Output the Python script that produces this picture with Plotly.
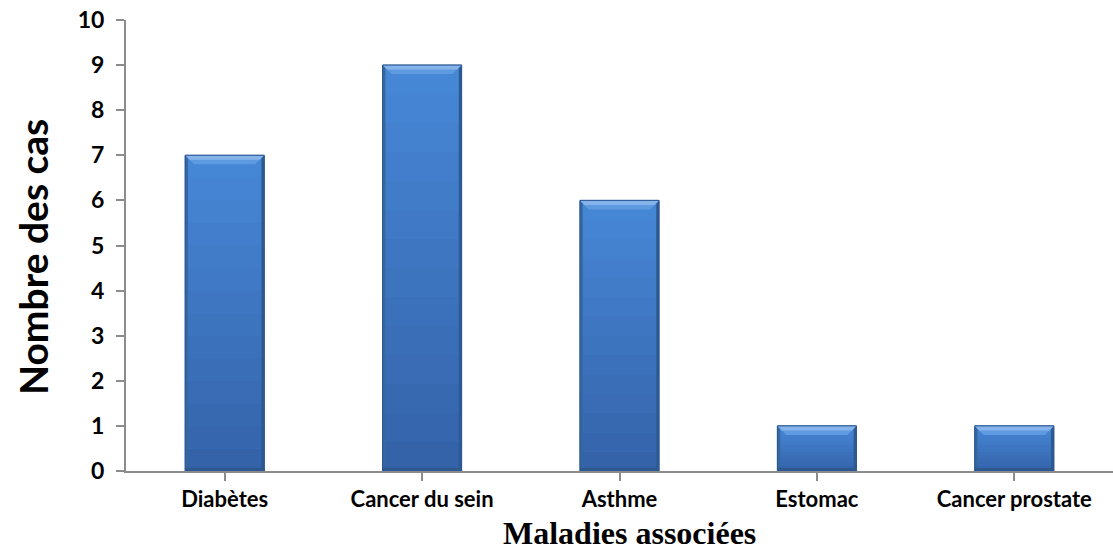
import plotly.graph_objects as go

# Associated diseases and number of cases
maladies = ["Diabètes", "Cancer du sein", "Asthme", "Estomac", "Cancer prostate"]
cas = [7, 9, 6, 1, 1]

BAR_WIDTH = 0.4
BEVEL_X = 0.045   # top-corner bevel width, category units
BEVEL_Y = 0.2     # top bevel height, value units
EDGE_X = 0.014    # side edge width
EDGE_Y = 0.07     # bottom edge height
N_BANDS = 14


def mix(c0, c1, t):
    a = [int(c0[i:i + 2], 16) for i in (1, 3, 5)]
    b = [int(c1[i:i + 2], 16) for i in (1, 3, 5)]
    return "#" + "".join(f"{round(a[k] + (b[k] - a[k]) * t):02x}" for k in range(3))


fig = go.Figure()
fig.add_trace(go.Bar(
    x=list(range(len(maladies))),
    y=cas,
    width=BAR_WIDTH,
    marker=dict(color="#3E7BCB", line=dict(color="#2C5A96", width=1)),
    hoverinfo="y",
))

# Shading on each bar, derived from the bar values
shapes = []
for i, v in enumerate(cas):
    x0, x1 = i - BAR_WIDTH / 2, i + BAR_WIDTH / 2
    # vertical face gradient: lighter at the top, darker at the bottom
    for k in range(N_BANDS):
        ya = v * k / N_BANDS
        yb = v * (k + 1) / N_BANDS
        t = (k + 0.5) / N_BANDS
        shapes.append(dict(type="rect", xref="x", yref="y",
                           x0=x0, x1=x1, y0=ya, y1=yb,
                           fillcolor=mix("#3462A8", "#4788D7", t),
                           line=dict(width=0), layer="above"))
    # left and right edges
    shapes.append(dict(type="rect", xref="x", yref="y",
                       x0=x0, x1=x0 + EDGE_X, y0=0, y1=v,
                       fillcolor="#36689F", line=dict(width=0), layer="above"))
    shapes.append(dict(type="rect", xref="x", yref="y",
                       x0=x1 - EDGE_X, x1=x1, y0=0, y1=v,
                       fillcolor="#2E5A92", line=dict(width=0), layer="above"))
    # bottom edge
    shapes.append(dict(type="rect", xref="x", yref="y",
                       x0=x0, x1=x1, y0=0, y1=EDGE_Y,
                       fillcolor="#2E5990", line=dict(width=0), layer="above"))
    # top bevel: two layers for a light-to-mid sheen
    shapes.append(dict(type="path", xref="x", yref="y",
                       path=f"M {x0},{v} L {x1},{v} L {x1-BEVEL_X},{v-BEVEL_Y} "
                            f"L {x0+BEVEL_X},{v-BEVEL_Y} Z",
                       fillcolor="#5E9AE0", line=dict(width=0), layer="above"))
    shapes.append(dict(type="path", xref="x", yref="y",
                       path=f"M {x0},{v} L {x1},{v} L {x1-BEVEL_X/2},{v-BEVEL_Y/2} "
                            f"L {x0+BEVEL_X/2},{v-BEVEL_Y/2} Z",
                       fillcolor="#86B3EA", line=dict(width=0), layer="above"))
    # outline
    shapes.append(dict(type="rect", xref="x", yref="y",
                       x0=x0, x1=x1, y0=0, y1=v,
                       fillcolor="rgba(0,0,0,0)", line=dict(color="#2C5794", width=1),
                       layer="above"))

fig.update_layout(
    width=1113, height=552,
    margin=dict(l=126, r=0, t=20, b=81),
    paper_bgcolor="white", plot_bgcolor="white",
    showlegend=False,
    shapes=shapes,
    font=dict(family="Lato, Open Sans, sans-serif", color="black"),
    xaxis=dict(
        tickmode="array",
        tickvals=list(range(len(maladies))),
        ticktext=[f"<b>{m}</b>" for m in maladies],
        range=[-0.5, len(maladies) - 0.5],
        tickson="boundaries",
        ticks="outside", ticklen=8, tickwidth=2, tickcolor="#8C8C8C",
        showline=True, linecolor="#8C8C8C", linewidth=2,
        showgrid=False, zeroline=False,
        tickfont=dict(family="Lato, sans-serif", size=22, color="black"),
        ticklabelstandoff=0,
    ),
    yaxis=dict(
        range=[0, 10], dtick=1,
        tickmode="array",
        tickvals=list(range(11)),
        ticktext=[f"<b>{n}</b>" for n in range(11)],
        ticks="outside", ticklen=8, tickwidth=2, tickcolor="#8C8C8C",
        showline=True, linecolor="#8C8C8C", linewidth=2,
        showgrid=False, zeroline=False,
        tickfont=dict(family="Lato, sans-serif", size=23, color="black"),
        ticklabelstandoff=7,
    ),
    annotations=[
        dict(text="<b>Maladies associées</b>", xref="paper", yref="paper",
             x=0.51, y=-0.137, xanchor="center", yanchor="middle", showarrow=False,
             font=dict(family="Liberation Serif, Times New Roman, serif", size=32, color="black")),
        dict(text="<b>Nombre des cas</b>", xref="paper", yref="paper",
             x=-0.094, y=0.475, xanchor="center", yanchor="middle", showarrow=False,
             textangle=-90,
             font=dict(family="Lato, sans-serif", size=39, color="black")),
    ],
)

fig.write_html("out.html")
